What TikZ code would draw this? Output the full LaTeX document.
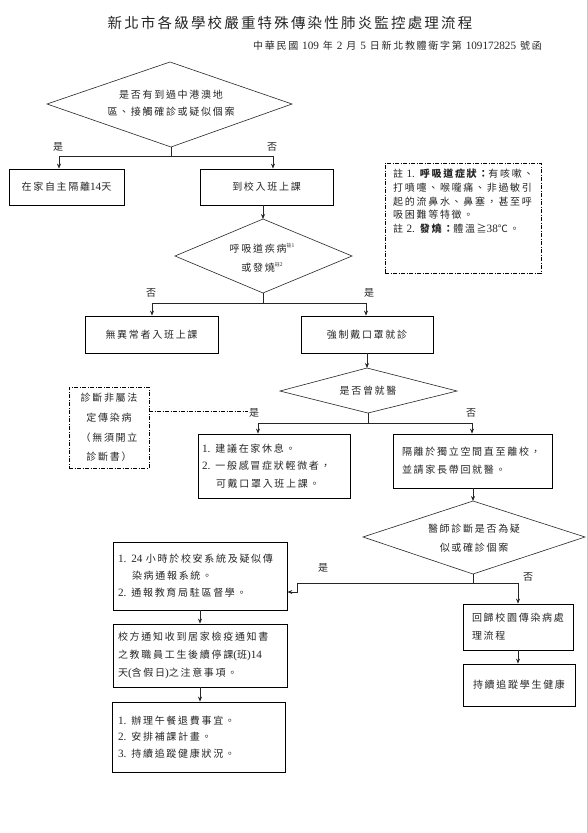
\documentclass[tikz,border=0pt]{standalone}
\usepackage{fontspec}
\setmainfont{Noto Sans CJK TC}[LetterSpace=17]
\newfontfamily\lat{Liberation Serif}[Scale=1.12]
\usetikzlibrary{arrows.meta}
\newcommand{\dg}[1]{{\lat #1}}
\newcommand{\bodyf}[1]{\fontsize{10}{#1}\selectfont}
\newcommand{\zhu}[1]{\raisebox{4.5pt}{\fontsize{5}{5}\selectfont 註{\lat #1}}}
\begin{document}
\begin{tikzpicture}[x=1pt,y=-1pt,
  every node/.style={text=black!85, inner sep=0pt},
  box/.style={draw=black, line width=0.8pt, rectangle, inner sep=0pt},
  arr/.style={draw=black!85, line width=0.7pt, -{Stealth[length=5pt,width=4pt]}},
  ln/.style={draw=black!85, line width=0.7pt},
  dia/.style={draw=black!85, line width=0.6pt},
  dd/.style={draw=black, line width=0.8pt, dash pattern=on 4pt off 1.5pt on 1pt off 1.5pt},
  lbl/.style={font=\bodyf{12}}]
\fill[white] (0,0) rectangle (588,833);
\useasboundingbox (0,0) rectangle (588,833);
\draw[gray!45, line width=0.8pt] (587,0) -- (587,833);

% title
\node[font=\fontsize{14.5}{16}\selectfont\addfontfeature{LetterSpace=15}] (title) at (290,23) {新北市各級學校嚴重特殊傳染性肺炎監控處理流程};
\node[font=\fontsize{10}{12}\selectfont, anchor=east] (sub) at (542,46) {中華民國 \dg{109} 年 \dg{2} 月 \dg{5} 日新北教體衛字第 \dg{109172825} 號函};

% diamond 1
\coordinate (d1t) at (170,62); \coordinate (d1r) at (292,104);
\coordinate (d1b) at (171,147); \coordinate (d1l) at (47,104);
\draw[dia] (d1t) -- (d1r) -- (d1b) -- (d1l) -- cycle;
\node[font=\bodyf{17}, align=center] (d1x) at (171,103) {是否有到過中港澳地\\區、接觸確診或疑似個案};

% boxes row 1
\node[box, minimum width=115, minimum height=36, font=\bodyf{13}] (b1) at (66.5,187) {在家自主隔離\dg{14}天};
\node[box, minimum width=133, minimum height=36, font=\bodyf{13}] (b2) at (266.5,187) {到校入班上課};

\coordinate (j1) at (171,156); \coordinate (j1l) at (59,156); \coordinate (j1r) at (273,156);
\draw[ln] (d1b) -- (j1);
\draw[ln] (j1l) -- (j1r);
\draw[arr] (j1l) -- (j1l |- b1.north);
\draw[arr] (j1r) -- (j1r |- b2.north);
\node[lbl] (y1) at (58,147) {是};
\node[lbl] (n1) at (272,147) {否};

% note box
\node[dd, rectangle, minimum width=156, minimum height=110] (note) at (463,218) {};
\node[anchor=north west, text width=145, align=left, font=\bodyf{13.7}] (notet) at (393,169)
 {註 \dg{1.} {\bfseries 呼吸道症狀：}有咳嗽、\\打噴嚏、喉嚨痛、非過敏引\\起的流鼻水、鼻塞，甚至呼\\吸困難等特徵。\\註 \dg{2.} {\bfseries 發燒：}體溫≧\dg{38}℃。};

% diamond 2
\coordinate (d2t) at (263,219); \coordinate (d2r) at (352,256);
\coordinate (d2b) at (263,293); \coordinate (d2l) at (175,256);
\draw[dia] (d2t) -- (d2r) -- (d2b) -- (d2l) -- cycle;
\node[font=\bodyf{19}, align=center] (d2x) at (262,258) {呼吸道疾病\zhu{1}\\或發燒\zhu{2}};
\draw[arr] (b2.south -| d2t) -- (d2t);

% boxes row 2
\node[box, minimum width=133, minimum height=37, font=\bodyf{13}] (b3) at (151.5,334.5) {無異常者入班上課};
\node[box, minimum width=132, minimum height=37, font=\bodyf{13}] (b4) at (367,334.5) {強制戴口罩就診};
\coordinate (j2) at (263,303); \coordinate (j2l) at (152,303); \coordinate (j2r) at (366,303);
\draw[ln] (d2b) -- (j2);
\draw[ln] (j2l) -- (j2r);
\draw[arr] (j2l) -- (j2l |- b3.north);
\draw[arr] (j2r) -- (j2r |- b4.north);
\node[lbl] (n2) at (151,293) {否};
\node[lbl] (y2) at (369,293) {是};

% diamond 3
\coordinate (d3t) at (367,368); \coordinate (d3r) at (457,391);
\coordinate (d3b) at (368,413); \coordinate (d3l) at (280,391);
\draw[dia] (d3t) -- (d3r) -- (d3b) -- (d3l) -- cycle;
\node[font=\bodyf{13}] (d3x) at (368,391) {是否曾就醫};
\draw[arr] (b4.south -| d3t) -- (d3t);

% dashed box left
\node[dd, rectangle, minimum width=80, minimum height=81, align=center, font=\bodyf{19.7}] (db) at (109,427.5) {診斷非屬法\\定傳染病\\（無須開立\\診斷書）};
\coordinate (dl) at (248,411);
\draw[dd] (db.east |- dl) -- (dl);

% boxes row 3
\node[box, minimum width=152, minimum height=64, text width=144, inner xsep=4pt, align=left, font=\bodyf{17.5}] (b5) at (274,466)
 {\dg{1.} 建議在家休息。\\\dg{2.} 一般感冒症狀輕微者，\\\hspace*{14pt}可戴口罩入班上課。};
\node[box, minimum width=159, minimum height=54, text width=141, inner xsep=9pt, align=left, font=\bodyf{18}] (b6) at (472.5,461)
 {隔離於獨立空間直至離校，\\並請家長帶回就醫。};
\coordinate (j3) at (368,423); \coordinate (j3l) at (258,423); \coordinate (j3r) at (472,423);
\draw[ln] (d3b) -- (j3);
\draw[ln] (j3l) -- (j3r);
\draw[arr] (j3l) -- (j3l |- b5.north);
\draw[arr] (j3r) -- (j3r |- b6.north);
\node[lbl] (y3) at (254,413) {是};
\node[lbl] (n3) at (471,413) {否};

% diamond 4
\coordinate (d4t) at (473,501); \coordinate (d4r) at (585,537);
\coordinate (d4b) at (473,574); \coordinate (d4l) at (363,537);
\draw[dia] (d4t) -- (d4r) -- (d4b) -- (d4l) -- cycle;
\node[font=\bodyf{19}, align=center] (d4x) at (474,538.5) {醫師診斷是否為疑\\似或確診個案};
\draw[arr] (b6.south -| d4t) -- (d4t);

% left column
\node[box, minimum width=174, minimum height=68, text width=164, inner xsep=5pt, align=left, font=\bodyf{17}] (bA) at (200,576)
 {\dg{1.} \dg{24} 小時於校安系統及疑似傳\\\hspace*{14pt}染病通報系統。\\\dg{2.} 通報教育局駐區督學。};
\node[box, minimum width=174, minimum height=63, text width=164, inner xsep=5pt, align=left, font=\bodyf{18}] (bB) at (200,655.5)
 {校方通知收到居家檢疫通知書\\之教職員工生後續停課\dg{(}班\dg{)14}\\天\dg{(}含假日\dg{)}之注意事項。};
\node[box, minimum width=173, minimum height=70, text width=161, inner xsep=6pt, align=left, font=\bodyf{16.5}] (bC) at (198.5,737)
 {\dg{1.} 辦理午餐退費事宜。\\\dg{2.} 安排補課計畫。\\\dg{3.} 持續追蹤健康狀況。};
\draw[arr] (bA.south) -- (bB.north);
\draw[arr] (bB.south) -- (bB.south |- bC.north);

% right column
\node[box, minimum width=110, minimum height=46, text width=92, inner xsep=9pt, align=left, font=\bodyf{18}] (bD) at (518,627)
 {回歸校園傳染病處\\理流程};
\node[box, minimum width=112, minimum height=42, font=\bodyf{13}] (bE) at (519,685) {持續追蹤學生健康};
\draw[arr] (bD.south) -- (bD.south |- bE.north);

\coordinate (j4) at (473,583); \coordinate (j4l) at (297,583); \coordinate (j4r) at (518,583);
\coordinate (e1) at (297,592);
\draw[ln] (d4b) -- (j4);
\draw[ln] (j4l) -- (j4r);
\draw[arr] (j4r) -- (j4r |- bD.north);
\draw[arr] (j4l) -- (e1) -- (e1 -| bA.east);
\node[lbl] (y4) at (323,568) {是};
\node[lbl] (n4) at (528,577) {否};
\end{tikzpicture}
\end{document}
